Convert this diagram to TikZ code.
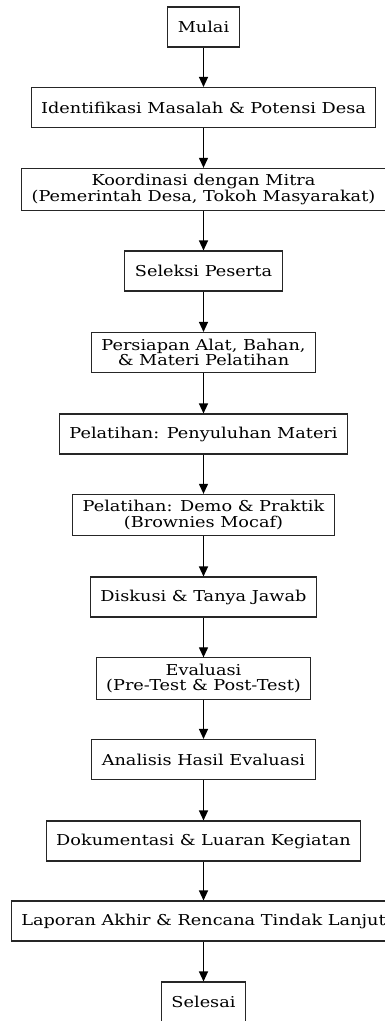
\documentclass[tikz,border=0pt]{standalone}
\usepackage{fontspec}
\setmainfont[FakeStretch=1.18]{DejaVu Serif}
\usetikzlibrary{arrows.meta}
\tikzset{
  % arrow
	cstra/.style      ={-{Triangle[length=10pt,width=9pt]}, line width=1.2pt},
  % node
	cstnode/.style    ={draw=black!85,fill=white,text=black,line width=1.1pt,
		minimum height=40pt,inner xsep=10pt,inner ysep=6pt,align=center,
		font=\fontsize{15}{15.5}\selectfont}
}
\begin{document}
\begin{tikzpicture}[x=1pt,y=1pt]
	\useasboundingbox (0,0) rectangle (385,-1021);
	% langkah kegiatan
	\node[cstnode] (mulai) at (203.5,-27) {Mulai};
	\node[cstnode] (identifikasi) at (203.5,-107.5) {Identifikasi Masalah \& Potensi Desa};
	\node[cstnode] (koordinasi) at (203.5,-189.5) {Koordinasi dengan Mitra\\(Pemerintah Desa, Tokoh Masyarakat)};
	\node[cstnode] (seleksi) at (203.5,-271) {Seleksi Peserta};
	\node[cstnode] (persiapan) at (203.5,-352.5) {Persiapan Alat, Bahan,\\\& Materi Pelatihan};
	\node[cstnode] (penyuluhan) at (203.5,-434) {Pelatihan: Penyuluhan Materi};
	\node[cstnode] (demo) at (203.5,-515) {Pelatihan: Demo \& Praktik\\(Brownies Mocaf)};
	\node[cstnode] (diskusi) at (203.5,-597) {Diskusi \& Tanya Jawab};
	\node[cstnode] (evaluasi) at (203.5,-678.5) {Evaluasi\\(Pre-Test \& Post-Test)};
	\node[cstnode] (analisis) at (203.5,-759.5) {Analisis Hasil Evaluasi};
	\node[cstnode] (dokumentasi) at (203.5,-841) {Dokumentasi \& Luaran Kegiatan};
	\node[cstnode] (laporan) at (203.5,-921) {Laporan Akhir \& Rencana Tindak Lanjut};
	\node[cstnode] (selesai) at (203.5,-1002) {Selesai};
	% panah
	\foreach \a/\b in {mulai/identifikasi,identifikasi/koordinasi,koordinasi/seleksi,
		seleksi/persiapan,persiapan/penyuluhan,penyuluhan/demo,demo/diskusi,
		diskusi/evaluasi,evaluasi/analisis,analisis/dokumentasi,
		dokumentasi/laporan,laporan/selesai}
		\draw[cstra] (\a) -- (\b);
\end{tikzpicture}
\end{document}
